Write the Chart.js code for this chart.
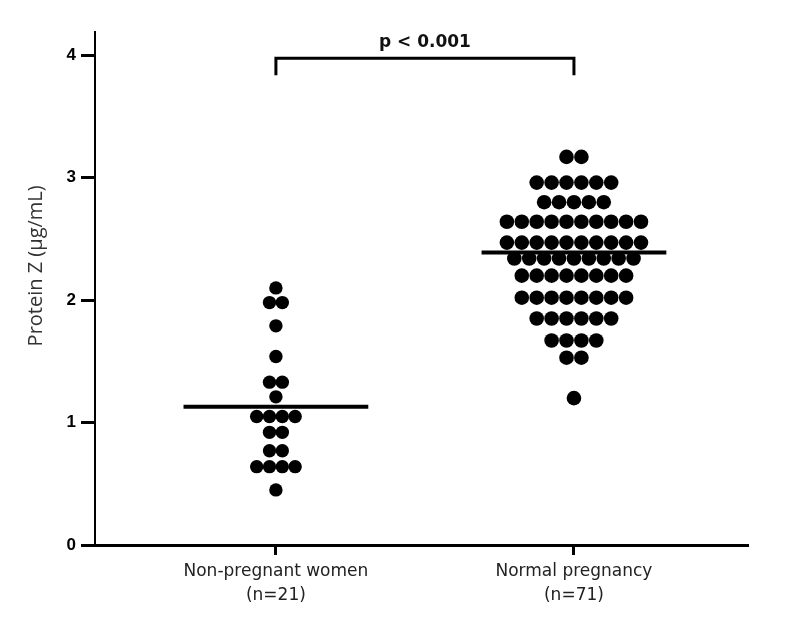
<!DOCTYPE html>
<html>
<head>
<meta charset="utf-8">
<script src="https://cdn.jsdelivr.net/npm/chart.js@4"></script>
<style>
  body { margin: 0; background: #fff; }
</style>
</head>
<body>
<canvas id="chart" width="800" height="628"></canvas>
<script>
// Data
const groupLabels = [["Non-pregnant women", "(n=21)"], ["Normal pregnancy", "(n=71)"]];
const nonPregnant = [2.10, 1.98, 1.98, 1.79, 1.54, 1.33, 1.33, 1.21,
  1.05, 1.05, 1.05, 1.05, 0.92, 0.92, 0.77, 0.77, 0.64, 0.64, 0.64, 0.64, 0.45];
const normalPregnancy = [3.17, 3.17,
  2.96, 2.96, 2.96, 2.96, 2.96, 2.96,
  2.80, 2.80, 2.80, 2.80, 2.80,
  2.64, 2.64, 2.64, 2.64, 2.64, 2.64, 2.64, 2.64, 2.64, 2.64,
  2.47, 2.47, 2.47, 2.47, 2.47, 2.47, 2.47, 2.47, 2.47, 2.47,
  2.34, 2.34, 2.34, 2.34, 2.34, 2.34, 2.34, 2.34, 2.34,
  2.20, 2.20, 2.20, 2.20, 2.20, 2.20, 2.20, 2.20,
  2.02, 2.02, 2.02, 2.02, 2.02, 2.02, 2.02, 2.02,
  1.85, 1.85, 1.85, 1.85, 1.85, 1.85,
  1.67, 1.67, 1.67, 1.67,
  1.53, 1.53,
  1.20];
const groupMeans = [1.13, 2.39];
const yTicks = [0, 1, 2, 3, 4];
const yTitle = "Protein Z (μg/mL)";
const pLabel = "p < 0.001";

// Layout bits
const dotStep = [0.043, 0.05];     // horizontal spacing of dots, x units
const dotRadius = [6.7, 7.3];
const meanHalfWidth = 0.31;
const bracketY = 3.976;
const bracketDrop = 0.14;

// simple beeswarm: equal values are spread side by side around the group centre
function swarm(values, center, step) {
  const counts = {};
  values.forEach(v => { counts[v] = (counts[v] || 0) + 1; });
  const seen = {};
  return values.map(v => {
    seen[v] = seen[v] === undefined ? 0 : seen[v] + 1;
    return { x: center + (seen[v] - (counts[v] - 1) / 2) * step, y: v };
  });
}

function meanLine(center, mean) {
  return [{ x: center - meanHalfWidth, y: mean }, { x: center + meanHalfWidth, y: mean }];
}

// significance bracket + y title
const extrasPlugin = {
  id: "extras",
  afterDatasetsDraw(chart) {
    const { ctx, scales: { x, y } } = chart;
    const x1 = x.getPixelForValue(1);
    const x2 = x.getPixelForValue(2);
    const yTop = y.getPixelForValue(bracketY);
    const yBot = y.getPixelForValue(bracketY - bracketDrop);
    ctx.save();
    ctx.strokeStyle = "#000";
    ctx.lineWidth = 3;
    ctx.beginPath();
    ctx.moveTo(x1, yBot);
    ctx.lineTo(x1, yTop);
    ctx.lineTo(x2, yTop);
    ctx.lineTo(x2, yBot);
    ctx.stroke();
    ctx.fillStyle = "#111";
    ctx.font = "bold 17px 'DejaVu Sans'";
    ctx.textAlign = "center";
    ctx.textBaseline = "middle";
    ctx.fillText(pLabel, (x1 + x2) / 2, yTop - 16);

    // rotated axis title, sits a bit above the middle of the axis
    ctx.translate(36, y.getPixelForValue(2.28));
    ctx.rotate(-Math.PI / 2);
    ctx.fillStyle = "#333";
    ctx.font = "20px 'Open Sans'";
    ctx.fillText(yTitle, 0, 0);
    ctx.restore();
  }
};

const ctx = document.getElementById("chart").getContext("2d");
new Chart(ctx, {
  type: "scatter",
  data: {
    datasets: [
      {
        data: swarm(nonPregnant, 1, dotStep[0]),
        backgroundColor: "#000",
        borderWidth: 0,
        pointRadius: dotRadius[0],
        clip: false,
      },
      {
        data: swarm(normalPregnancy, 2, dotStep[1]),
        backgroundColor: "#000",
        borderWidth: 0,
        pointRadius: dotRadius[1],
        clip: false,
      },
      {
        type: "line",
        data: meanLine(1, groupMeans[0]),
        borderColor: "#000",
        borderWidth: 4,
        pointRadius: 0,
        clip: false,
      },
      {
        type: "line",
        data: meanLine(2, groupMeans[1]),
        borderColor: "#000",
        borderWidth: 4,
        pointRadius: 0,
        clip: false,
      },
    ],
  },
  options: {
    responsive: false,
    animation: false,
    layout: { padding: { top: 32, right: 52, left: 0, bottom: 0 } },
    plugins: {
      legend: { display: false },
      tooltip: { enabled: false },
    },
    scales: {
      x: {
        type: "linear",
        min: 0.393,
        max: 2.584,
        afterBuildTicks: (axis) => { axis.ticks = [{ value: 1 }, { value: 2 }]; },
        afterFit: (axis) => { axis.height = 83; },
        border: { color: "#000", width: 3 },
        grid: {
          drawOnChartArea: false,
          drawTicks: true,
          tickLength: 10,
          tickWidth: 3,
          tickColor: "#000",
        },
        ticks: {
          color: "#222",
          padding: 4,
          maxRotation: 0,
          font: { family: "'DejaVu Sans'", size: 17, lineHeight: 1.45 },
          callback: (v) => groupLabels[v - 1],
        },
      },
      y: {
        min: 0,
        max: 4.19,
        afterBuildTicks: (axis) => { axis.ticks = yTicks.map(v => ({ value: v })); },
        afterFit: (axis) => { axis.width = 95; },
        border: { color: "#000", width: 2 },
        grid: {
          drawOnChartArea: false,
          drawTicks: true,
          tickLength: 14,
          tickWidth: 3,
          tickColor: "#000",
        },
        ticks: {
          color: "#000",
          padding: 5,
          font: { family: "'Liberation Sans'", size: 17, weight: "bold" },
        },
      },
    },
  },
  plugins: [extrasPlugin],
});
</script>
</body>
</html>
